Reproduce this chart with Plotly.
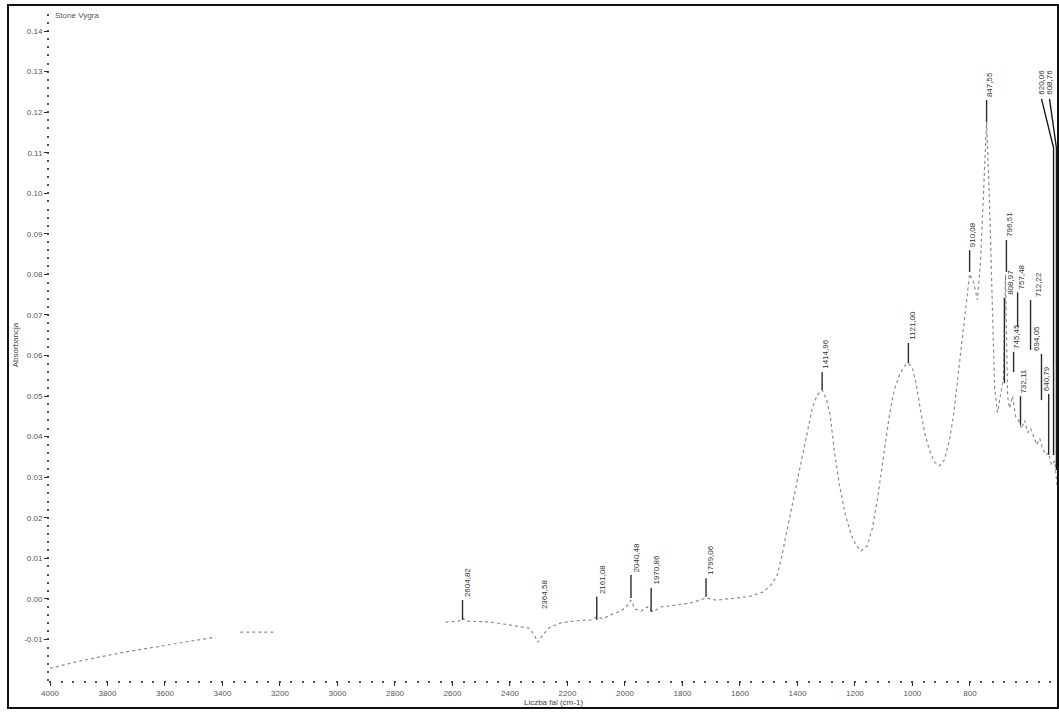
import plotly.graph_objects as go

# ---------------- data ----------------
wavenumber = [4000, 3913, 3826, 3739, 3652, 3564, 3477, 3425, None, 3338, 3216, None,
              2624, 2578, 2565, 2551, 2467, 2380, 2335, 2317, 2303, 2289, 2265, 2223, 2171,
              2118, 2098, 2077, 2042, 2014, 1993, 1979, 1965, 1944, 1923, 1902, 1875, 1822,
              1770, 1718, 1683, 1613, 1561, 1519, 1491, 1470, 1453, 1436, 1418, 1401, 1383,
              1366, 1348, 1331, 1314, 1300, 1286, 1272, 1254, 1233, 1213, 1195, 1178, 1157,
              1139, 1122, 1108, 1094, 1080, 1063, 1045, 1028, 1014, 1000, 986, 972, 958,
              941, 923, 906, 889, 871, 857, 843, 829, 815, 801, 787, 774, 763, 753, 742,
              732, 721, 714, 704, 693, 683, 676, 669, 662, 652, 641, 631, 620, 610, 599,
              589, 578, 568, 557, 547, 536, 526, 516, 505, 497]
absorbance = [-0.0171, -0.0156, -0.0143, -0.0131, -0.0121, -0.0111, -0.0101, -0.0094, None,
              -0.0082, -0.0082, None,
              -0.0057, -0.0055, -0.0047, -0.0055, -0.0057, -0.0067, -0.0072, -0.0087,
              -0.0107, -0.0092, -0.0072, -0.0059, -0.0054, -0.0052, -0.0044, -0.0049,
              -0.0037, -0.0030, -0.0017, -0.0003, -0.0025, -0.0030, -0.0020, -0.0032,
              -0.0020, -0.0015, -0.0010, 0.0002, -0.0003, 0.0002, 0.0007, 0.0017, 0.0035,
              0.0059, 0.0109, 0.0170, 0.0232, 0.0294, 0.0355, 0.0416, 0.0471, 0.0503,
              0.0515, 0.0495, 0.0453, 0.0367, 0.0281, 0.0207, 0.0158, 0.0131, 0.0118,
              0.0131, 0.0175, 0.0244, 0.0318, 0.0392, 0.0453, 0.0515, 0.0552, 0.0574,
              0.0581, 0.0569, 0.0527, 0.0466, 0.0411, 0.0367, 0.0337, 0.0328, 0.0342,
              0.0391, 0.0453, 0.0539, 0.0626, 0.0724, 0.0801, 0.0781, 0.0737, 0.0830,
              0.1008, 0.1176, 0.0983, 0.0687, 0.0520, 0.0460, 0.0500, 0.0545, 0.0800,
              0.0500, 0.0470, 0.0500, 0.0450, 0.0440, 0.0420, 0.0440, 0.0410, 0.0420,
              0.0400, 0.0380, 0.0395, 0.0370, 0.0355, 0.0360, 0.0330, 0.0340, 0.0280]

# peak labels with vertical leaders
peak_labels = ["2604,82", "2364,58", "2161,08", "2040,48", "1970,86", "1799,06",
               "1414,96", "1121,00", "910,08", "847,55", "796,51", "808,97",
               "757,48", "745,45", "732,11", "712,22", "694,05", "640,79"]
peak_wn = [2565, 2279, 2098, 1979, 1909, 1718, 1314, 1014, 801, 742, 673, 680,
           634, 648, 624, 589, 551, 526]
peak_abs = [-0.0052, -0.0032, -0.0052, 0.0002, -0.0032, 0.0005, 0.0515, 0.0581,
            0.0806, 0.1176, 0.0806, 0.0532, 0.0670, 0.0559, 0.0429, 0.0614, 0.0490, 0.0355]
label_abs = [-0.0003, -0.0032, 0.0005, 0.0059, 0.0027, 0.0051, 0.0559, 0.0631,
             0.0860, 0.1230, 0.0885, 0.0742, 0.0756, 0.0609, 0.0500, 0.0737, 0.0604, 0.0505]
label_xshift = [5, 0, 6, 5, 5, 5, 4, 4, 3, 3, 3, 6, 4, 3, 3, 8, -5, -2]

# two labels at top right with bent leaders
bent_labels = ["620,06", "608,76"]
bent_text_wn = [551, 523]
bent_text_abs = [0.1238, 0.1238]
bent_knee_wn = [509, 499]
bent_knee_abs = [0.1112, 0.1112]
bent_peak_abs = [0.0355, 0.0318]

x_ticks = list(range(4000, 799, -200))
y_ticks = [round(-0.01 + 0.01 * i, 2) for i in range(16)]

# ---------------- figure ----------------
FONT = "Liberation Sans"
fig = go.Figure()
fig.add_trace(go.Scatter(
    x=wavenumber, y=absorbance, mode="lines",
    line=dict(color="#8c8c8c", width=1.2, dash="dot"),
    connectgaps=False, hoverinfo="skip", showlegend=False))

shapes = []
annotations = []
for t, wn, lo, hi, xs in zip(peak_labels, peak_wn, peak_abs, label_abs, label_xshift):
    if hi > lo:
        shapes.append(dict(type="line", xref="x", yref="y", x0=wn, x1=wn, y0=lo, y1=hi,
                           line=dict(color="#2a2a2a", width=1.4)))
    annotations.append(dict(x=wn, y=hi, xref="x", yref="y", text=t, showarrow=False,
                            textangle=-90, xanchor="center", yanchor="bottom",
                            xshift=xs, yshift=1,
                            font=dict(family=FONT, size=8, color="#333333")))

for t, twn, tab, kwn, kab, pab in zip(bent_labels, bent_text_wn, bent_text_abs,
                                      bent_knee_wn, bent_knee_abs, bent_peak_abs):
    shapes.append(dict(type="path", xref="x", yref="y",
                       path=f"M {twn},{tab - 0.0005} L {kwn},{kab} L {kwn},{pab}",
                       line=dict(color="#1a1a1a", width=1.4)))
    annotations.append(dict(x=twn, y=tab, xref="x", yref="y", text=t, showarrow=False,
                            textangle=-90, xanchor="center", yanchor="bottom",
                            font=dict(family=FONT, size=8, color="#333333")))

annotations.append(dict(x=0.003, y=0.992, xref="paper", yref="paper", text="Stone Vygra",
                        showarrow=False, xanchor="left", yanchor="middle",
                        font=dict(family=FONT, size=8, color="#555555")))

# outer frame of the scanned page
shapes.append(dict(type="rect", xref="paper", yref="paper",
                   x0=-0.0417, x1=1.001, y0=-0.0418, y1=1.0075,
                   line=dict(color="#111111", width=2)))

fig.update_layout(
    width=1059, height=713,
    margin=dict(l=50, r=2, t=10, b=33),
    paper_bgcolor="white", plot_bgcolor="white",
    font=dict(family=FONT, size=8, color="#555555"),
    shapes=shapes, annotations=annotations, showlegend=False,
)
fig.update_xaxes(
    range=[4000, 497], tickmode="array", tickvals=x_ticks,
    ticktext=[str(v) for v in x_ticks],
    ticks="outside", ticklen=5, tickwidth=1.3, tickcolor="#333",
    minor=dict(tickmode="linear", tick0=0, dtick=40, ticks="outside", ticklen=2,
               tickwidth=1.5, tickcolor="#555", showgrid=False),
    showgrid=False, zeroline=False, showline=False,
    tickfont=dict(family=FONT, size=8, color="#555555"),
    title=dict(text="Liczba fal (cm-1)", standoff=2,
               font=dict(family=FONT, size=8, color="#444444")),
    automargin=False,
)
fig.update_yaxes(
    range=[-0.02, 0.1452], tickmode="array", tickvals=y_ticks,
    ticktext=[f"{v:.2f}" for v in y_ticks],
    ticks="outside", ticklen=5, tickwidth=1.2, tickcolor="#333",
    minor=dict(tickmode="linear", tick0=0, dtick=0.002, ticks="outside", ticklen=2,
               tickwidth=1.5, tickcolor="#555", showgrid=False),
    showgrid=False, zeroline=False, showline=False,
    tickfont=dict(family=FONT, size=8, color="#555555"),
    title=dict(text="Absorbancja", standoff=4,
               font=dict(family=FONT, size=8, color="#444444")),
    automargin=False,
)

fig.write_html("out.html")
